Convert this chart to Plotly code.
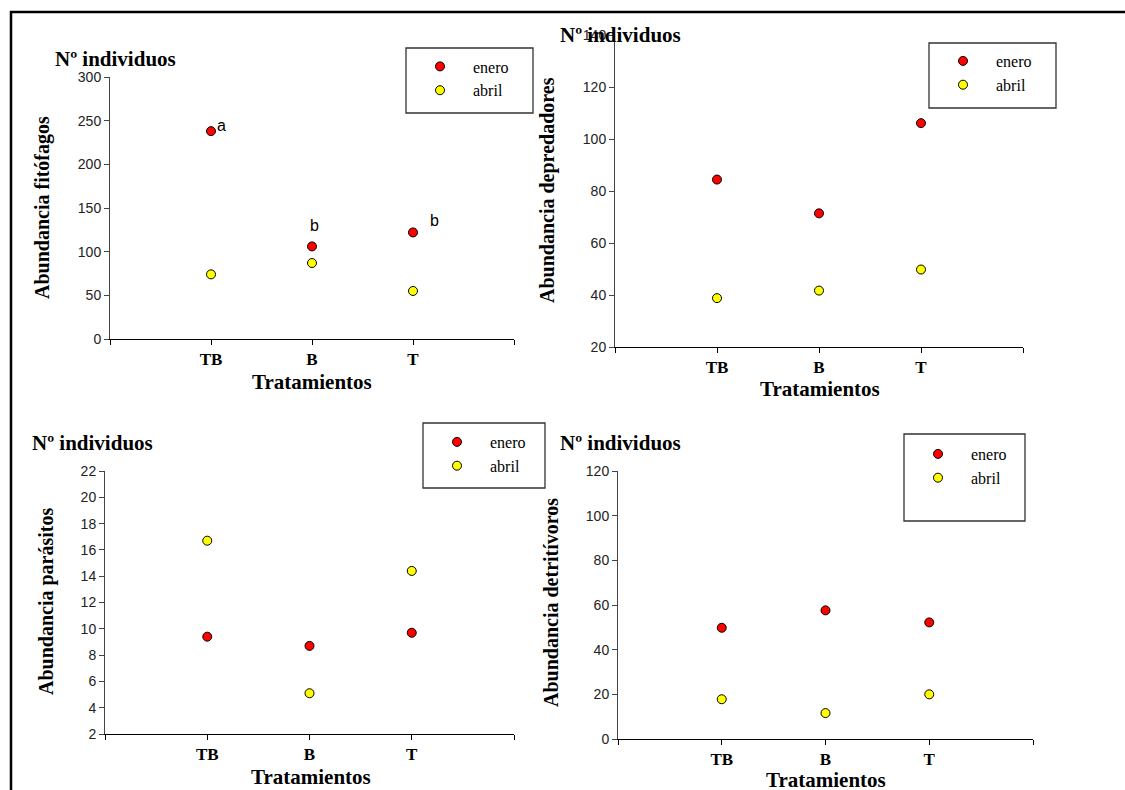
import plotly.graph_objects as go

W, H = 1125, 790

categories = ["TB", "B", "T"]
series_names = ["enero", "abril"]
series_colors = ["#FF0000", "#FFFF00"]

fitofagos_enero = [238, 106, 122]
fitofagos_abril = [74, 87, 55]
depredadores_enero = [84.4, 71.4, 106.1]
depredadores_abril = [38.8, 41.7, 49.8]
parasitos_enero = [9.4, 8.7, 9.7]
parasitos_abril = [16.7, 5.1, 14.4]
detritivoros_enero = [49.8, 57.6, 52.2]
detritivoros_abril = [17.8, 11.6, 20.0]

y_titles = ["Abundancia fitófagos", "Abundancia depredadores",
            "Abundancia parásitos", "Abundancia detritívoros"]
sig_letters = ["a", "b", "b"]

panels = [
    dict(data=(fitofagos_enero, fitofagos_abril), rng=[0, 300], dtick=50,
         xdom=(110, 514), ydom=(77, 339)),
    dict(data=(depredadores_enero, depredadores_abril), rng=[20, 140], dtick=20,
         xdom=(615, 1023), ydom=(35, 347)),
    dict(data=(parasitos_enero, parasitos_abril), rng=[2, 22], dtick=2,
         xdom=(105, 514), ydom=(471, 734)),
    dict(data=(detritivoros_enero, detritivoros_abril), rng=[0, 120], dtick=20,
         xdom=(618, 1033), ydom=(471, 739)),
]

def px(x):
    return x / W

def py(y):
    return 1 - y / H

x_pos = list(range(1, len(categories) + 1))
tickvals = [0] + x_pos + [len(categories) + 1]
ticktext = [""] + categories + [""]

fig = go.Figure()
layout = dict(
    width=W, height=H,
    margin=dict(l=0, r=0, t=0, b=0),
    paper_bgcolor="white", plot_bgcolor="white",
    showlegend=True,
)

serif = "Liberation Serif, Times New Roman, serif"
sans = "Liberation Sans, Arial, sans-serif"

# legend placement (left, top) and legend frame boxes (x0, y0, x1, y1) in pixels
legend_pos = [(407, 49.5), (930, 44), (424, 425), (905, 437)]
legend_boxes = [(406, 48, 533, 113), (929, 43, 1056, 108),
                (423, 423, 545, 488), (904, 434, 1025, 521)]

annotations = []
shapes = []
for i, p in enumerate(panels):
    n = "" if i == 0 else str(i + 1)
    xa, ya = "x" + n, "y" + n
    leg = "legend" + n
    for vals, name, col in zip(p["data"], series_names, series_colors):
        fig.add_trace(go.Scatter(
            x=x_pos, y=vals, mode="markers", name=name,
            marker=dict(color=col, size=9, line=dict(color="black", width=1)),
            xaxis=xa, yaxis=ya, legend=leg, showlegend=True,
        ))
    layout["xaxis" + n] = dict(
        domain=[px(p["xdom"][0]), px(p["xdom"][1])],
        anchor=ya, range=[0, len(categories) + 1],
        tickvals=tickvals, ticktext=ticktext,
        ticks="outside", ticklen=5, tickcolor="black", tickwidth=1,
        showline=True, linecolor="black", linewidth=1,
        showgrid=False, zeroline=False, automargin=False,
        tickfont=dict(family=serif, size=17, color="black", weight="bold"),
        fixedrange=True,
    )
    layout["yaxis" + n] = dict(
        domain=[py(p["ydom"][1]), py(p["ydom"][0])],
        anchor=xa, range=p["rng"], dtick=p["dtick"], tick0=p["rng"][0],
        ticks="outside", ticklen=5, tickcolor="#444", tickwidth=1,
        showline=True, linecolor="#444", linewidth=1,
        showgrid=False, zeroline=False, automargin=False,
        tickfont=dict(family=sans, size=14, color="#222"),
        fixedrange=True,
    )
    lx, ly = legend_pos[i]
    layout[leg] = dict(
        x=px(lx), y=py(ly), xanchor="left", yanchor="top",
        borderwidth=0, bgcolor="rgba(0,0,0,0)",
        font=dict(family=serif, size=16, color="black"),
        itemsizing="trace", itemwidth=56, tracegroupgap=0,
    )
    bx0, by0, bx1, by1 = legend_boxes[i]
    shapes.append(dict(
        type="rect", xref="paper", yref="paper",
        x0=px(bx0), x1=px(bx1), y0=py(by1), y1=py(by0),
        line=dict(color="#333", width=1.3), fillcolor="rgba(0,0,0,0)", layer="above",
    ))

# Titles "Nº individuos"
title_pos = [(53, 59), (558, 35), (30, 443), (558, 443)]
for (tx, ty) in title_pos:
    annotations.append(dict(
        text="Nº individuos", x=px(tx), y=py(ty), xref="paper", yref="paper",
        xanchor="left", yanchor="middle", showarrow=False,
        font=dict(family=serif, size=21, color="black", weight="bold"),
    ))

# Y axis titles
ytitle_pos = [(42, 208), (548, 190), (46, 602), (551, 603)]
for t, (tx, ty) in zip(y_titles, ytitle_pos):
    annotations.append(dict(
        text=t, x=px(tx), y=py(ty), xref="paper", yref="paper",
        xanchor="center", yanchor="middle", textangle=-90, showarrow=False,
        font=dict(family=serif, size=20, color="black", weight="bold"),
    ))

# X axis titles
xtitle_pos = [(312, 382), (820, 389), (311, 777), (826, 780)]
for (tx, ty) in xtitle_pos:
    annotations.append(dict(
        text="Tratamientos", x=px(tx), y=py(ty), xref="paper", yref="paper",
        xanchor="center", yanchor="middle", showarrow=False,
        font=dict(family=serif, size=21, color="black", weight="bold"),
    ))

# Significance letters on first panel
letter_offsets = [(0.10, 7), (0.02, 24.5), (0.21, 14)]
for letter, xv, yv, (dx, dy) in zip(sig_letters, x_pos, fitofagos_enero, letter_offsets):
    annotations.append(dict(
        text=letter, x=xv + dx, y=yv + dy, xref="x", yref="y",
        xanchor="center", yanchor="middle", showarrow=False,
        font=dict(family=sans, size=16, color="black"),
    ))

# outer frame (extends beyond the right and bottom edges)
shapes.append(dict(
    type="rect", xref="paper", yref="paper",
    x0=px(11), x1=px(1140), y0=py(805), y1=py(12),
    line=dict(color="black", width=2.5), fillcolor="rgba(0,0,0,0)", layer="above",
))

layout["annotations"] = annotations
layout["shapes"] = shapes

fig.update_layout(**layout)
fig.write_html("out.html")
